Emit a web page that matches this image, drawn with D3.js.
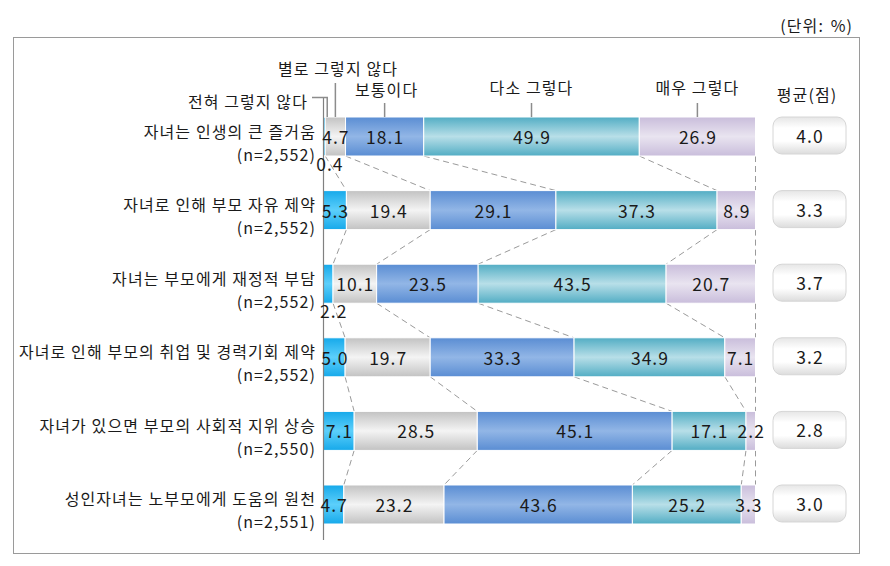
<!DOCTYPE html>
<html><head><meta charset="utf-8">
<script src="https://cdn.jsdelivr.net/npm/d3@7"></script>
<style>
body{margin:0;background:#fff;}
text{font-family:"Noto Sans CJK KR","Noto Sans",sans-serif;fill:#1a1a1a;}
.lab{font-size:16px;letter-spacing:1.1px;}
.num{font-size:17.5px;letter-spacing:1px;}
</style></head>
<body><svg id="c" width="890" height="566"></svg>
<script>
const categories = ["자녀는 인생의 큰 즐거움","자녀로 인해 부모 자유 제약","자녀는 부모에게 재정적 부담","자녀로 인해 부모의 취업 및 경력기회 제약","자녀가 있으면 부모의 사회적 지위 상승","성인자녀는 노부모에게 도움의 원천"];
const sampleSizes = ["(n=2,552)","(n=2,552)","(n=2,552)","(n=2,552)","(n=2,550)","(n=2,551)"];
const seriesNames = ["전혀 그렇지 않다","별로 그렇지 않다","보통이다","다소 그렇다","매우 그렇다"];
const notAtAll = [0.4, 5.3, 2.2, 5.0, 7.1, 4.7];
const notMuch  = [4.7, 19.4, 10.1, 19.7, 28.5, 23.2];
const neutral  = [18.1, 29.1, 23.5, 33.3, 45.1, 43.6];
const somewhat = [49.9, 37.3, 43.5, 34.9, 17.1, 25.2];
const very     = [26.9, 8.9, 20.7, 7.1, 2.2, 3.3];
const means    = ["4.0","3.3","3.7","3.2","2.8","3.0"];
const unitLabel = "(단위: %)";
const meanLabel = "평균(점)";

const series = [notAtAll, notMuch, neutral, somewhat, very];
const colors = [
  ["#16a9ea","#5ccffb"],
  ["#c2c2c2","#f4f4f4"],
  ["#5a8dd3","#92b6e6"],
  ["#52adc4","#b8dfe8"],
  ["#c9bddb","#e9e4f0"]
];

const svg = d3.select("#c");
const defs = svg.append("defs");
colors.forEach((c,i)=>{
  const g = defs.append("linearGradient").attr("id","g"+i).attr("x1",0).attr("y1",0).attr("x2",0).attr("y2",1);
  g.append("stop").attr("offset","0%").attr("stop-color",c[0]);
  g.append("stop").attr("offset","50%").attr("stop-color",c[1]);
  g.append("stop").attr("offset","100%").attr("stop-color",c[0]);
});
const mg = defs.append("linearGradient").attr("id","mg").attr("x1",0).attr("y1",0).attr("x2",0).attr("y2",1);
mg.append("stop").attr("offset","0%").attr("stop-color","#e6e6e6");
mg.append("stop").attr("offset","30%").attr("stop-color","#ffffff");
mg.append("stop").attr("offset","65%").attr("stop-color","#ffffff");
mg.append("stop").attr("offset","100%").attr("stop-color","#dcdcdc");

// frame
svg.append("rect").attr("x",13.5).attr("y",37.5).attr("width",846).attr("height",516)
  .attr("fill","none").attr("stroke","#9a9a9a").attr("stroke-width",1);
svg.append("text").attr("class","lab").attr("x",853).attr("y",25).attr("text-anchor","end")
  .attr("dominant-baseline","central").style("word-spacing","2px").text(unitLabel);

const x = d3.scaleLinear().domain([0,100]).range([323.5,755.5]);
const y = d3.scaleBand().domain(categories).range([117,524]).paddingInner(0.47).paddingOuter(0);
const bw = y.bandwidth();

// stacked data
const rows = categories.map((c,i)=>{
  let cum=0;
  const segs = series.map((s,k)=>{ const x0=cum; cum+=s[i]; return {k, v:s[i], x0, x1:cum}; });
  return {c, i, segs};
});

// dashed connectors
for(let i=0;i<rows.length-1;i++){
  const a=rows[i], b=rows[i+1];
  for(let k=0;k<5;k++){
    svg.append("line")
      .attr("x1",x(a.segs[k].x1)).attr("y1",y(a.c)+bw)
      .attr("x2",x(b.segs[k].x1)).attr("y2",y(b.c))
      .attr("stroke","#9a9a9a").attr("stroke-width",1).attr("stroke-dasharray","6,4");
  }
}

// bars
const g = svg.append("g");
rows.forEach(r=>{
  g.selectAll(null).data(r.segs).enter().append("rect")
    .attr("x",d=>x(d.x0)).attr("y",y(r.c))
    .attr("width",d=>Math.max(0,x(d.x1)-x(d.x0))).attr("height",bw)
    .attr("fill",d=>"url(#g"+d.k+")")
    .attr("stroke","#fff").attr("stroke-width",1);
});

// axis line
svg.append("line").attr("x1",323.5).attr("x2",323.5).attr("y1",97.5).attr("y2",540)
  .attr("stroke","#808080").attr("stroke-width",1.2);

// value labels
rows.forEach(r=>{
  r.segs.forEach(d=>{
    const cx = (x(d.x0)+x(d.x1))/2;
    const below = d.k===0 && d.v<3;
    svg.append("text").attr("class","num")
      .attr("x", (below ? cx+5 : cx)+0.5)
      .attr("y", below ? y(r.c)+bw+7 : y(r.c)+bw/2)
      .attr("text-anchor","middle").attr("dominant-baseline","central")
      .text(d.v.toFixed(1));
  });
});

// category labels
categories.forEach((c,i)=>{
  const cy = y(c)+bw/2;
  svg.append("text").attr("class","lab").attr("x",316).attr("y",cy-6).attr("text-anchor","end")
    .attr("dominant-baseline","central").text(c);
  svg.append("text").attr("class","lab").attr("x",316).attr("y",cy+17).attr("text-anchor","end")
    .attr("dominant-baseline","central").text(sampleSizes[i]);
});

// mean boxes
categories.forEach((c,i)=>{
  svg.append("rect").attr("x",773).attr("y",y(c)).attr("width",73).attr("height",37)
    .attr("rx",9).attr("fill","url(#mg)").attr("stroke","#d6d6d6").attr("stroke-width",1);
  svg.append("text").attr("class","num").attr("x",810).attr("y",y(c)+18.5).attr("text-anchor","middle")
    .attr("dominant-baseline","central").text(means[i]);
});
svg.append("text").attr("class","lab").attr("x",807).attr("y",94).attr("text-anchor","middle")
  .attr("dominant-baseline","central").text(meanLabel);

// legend labels with leaders (first row)
const r0 = rows[0];
const top0 = y(categories[0]);
const lc = "#8c8c8c";
svg.append("text").attr("class","lab").attr("x",308).attr("y",101).attr("text-anchor","end")
  .attr("dominant-baseline","central").text(seriesNames[0]);
svg.append("polyline").attr("points",`312,97.5 ${x(r0.segs[0].x1)+2},97.5 ${x(r0.segs[0].x1)+2},${top0}`)
  .attr("fill","none").attr("stroke",lc).attr("stroke-width",1.5);
const c1 = (x(r0.segs[1].x0)+x(r0.segs[1].x1))/2;
svg.append("text").attr("class","lab").attr("x",338).attr("y",68).attr("text-anchor","middle")
  .attr("dominant-baseline","central").text(seriesNames[1]);
svg.append("line").attr("x1",c1).attr("x2",c1).attr("y1",83).attr("y2",top0)
  .attr("stroke",lc).attr("stroke-width",1.5);
[2,3,4].forEach(k=>{
  const cx = (x(r0.segs[k].x0)+x(r0.segs[k].x1))/2;
  svg.append("text").attr("class","lab").attr("x",cx+(k===2?2:0)).attr("y",k===2?89:87).attr("text-anchor","middle")
    .attr("dominant-baseline","central").text(seriesNames[k]);
  svg.append("line").attr("x1",cx).attr("x2",cx).attr("y1",103).attr("y2",top0)
    .attr("stroke",lc).attr("stroke-width",1.5);
});
</script></body></html>
